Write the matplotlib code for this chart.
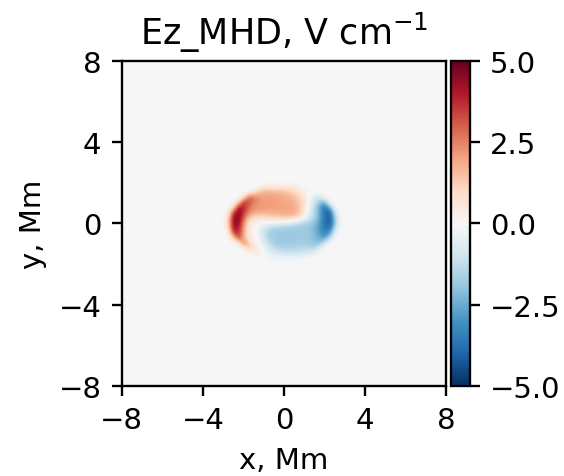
import numpy as np
import matplotlib
matplotlib.use("Agg")
import matplotlib.pyplot as plt

# grid nodes (Mm) for the Ez field
x_nodes = [-3.0, -2.75, -2.5, -2.25, -2.0, -1.75, -1.5, -1.25, -1.0, -0.75, -0.5, -0.25,
           0.0, 0.25, 0.5, 0.75, 1.0, 1.25, 1.5, 1.75, 2.0, 2.25, 2.5, 2.75, 3.0]
y_nodes = [2.0, 1.75, 1.5, 1.25, 1.0, 0.75, 0.5, 0.25, 0.0,
           -0.25, -0.5, -0.75, -1.0, -1.25, -1.5, -1.75, -2.0]

# Ez_MHD values, V/cm, one row per y node (top -> bottom), columns follow x_nodes
ez_rows = [
    [0, 0, 0, 0, 0, 0, 0, 0, 0, 0, 0, 0, 0, 0, 0, 0, 0, 0, 0, 0, 0, 0, 0, 0, 0],
    [0, 0, 0, 0, 0, 0, 0, 0, 0.4, 0.4, 0.4, 0.4, 0.4, 0.4, 0.4, 0.2, 0, 0, 0, 0, 0, 0, 0, 0, 0],
    [0, 0, 0, 0, 0, 0, 0.6, 1.5, 1.8, 1.8, 1.7, 1.6, 1.5, 1.3, 1.0, 0.6, 0.3, 0, 0, 0, 0, 0, 0, 0, 0],
    [0, 0, 0, 0, 0.5, 3.0, 2.6, 2.2, 2.0, 2.0, 2.0, 1.9, 1.8, 1.7, 1.5, 1.1, 0.5, 0.0, -0.8, -0.6, 0, 0, 0, 0, 0],
    [0, 0, 0, 1.0, 3.8, 3.2, 2.5, 2.2, 2.1, 2.1, 2.1, 2.0, 2.0, 1.9, 1.7, 1.3, 0.6, -0.2, -1.0, -2.2, -2.0, 0, 0, 0, 0],
    [0, 0, 0.8, 4.2, 3.8, 2.8, 2.3, 2.2, 2.1, 2.1, 2.1, 2.0, 2.0, 2.0, 1.8, 1.4, 0.6, -0.4, -1.4, -2.6, -3.8, -2.0, 0, 0, 0],
    [0, 0.3, 3.5, 4.6, 3.6, 2.5, 2.0, 1.9, 1.9, 1.9, 1.9, 1.9, 1.9, 1.9, 1.8, 1.4, 0.5, -0.6, -1.6, -2.6, -4.0, -4.0, -0.8, 0, 0],
    [0, 1.0, 4.5, 4.6, 3.0, 1.5, 1.0, 0.8, 0.9, 1.0, 1.2, 1.3, 1.4, 1.4, 1.2, 0.8, 0.0, -0.8, -1.6, -2.6, -3.8, -4.2, -1.5, 0, 0],
    [0, 1.2, 4.6, 4.4, 2.5, 0.6, 0.3, 0.1, 0.0, 0.0, -0.1, -0.2, -0.3, -0.5, -0.8, -1.1, -1.4, -1.7, -2.1, -2.9, -3.8, -4.2, -1.8, 0, 0],
    [0, 1.0, 4.4, 4.0, 2.0, 0.5, 0.2, -0.4, -0.9, -1.2, -1.5, -1.6, -1.7, -1.7, -1.8, -1.8, -1.8, -1.9, -2.3, -2.9, -3.7, -3.8, -1.2, 0, 0],
    [0, 0.2, 3.6, 3.8, 1.8, 0.5, 0.2, -0.4, -1.1, -1.6, -1.8, -1.8, -1.8, -1.8, -1.8, -1.8, -1.8, -1.9, -2.3, -2.8, -3.4, -2.8, -0.3, 0, 0],
    [0, 0, 1.2, 3.4, 1.8, 0.5, 0.2, -0.3, -1.0, -1.6, -1.8, -1.9, -1.9, -1.9, -1.8, -1.8, -1.8, -1.9, -2.2, -2.5, -2.8, -1.2, 0, 0, 0],
    [0, 0, 0, 0.5, 2.6, 1.2, 0.3, 0.0, -0.6, -1.3, -1.7, -1.8, -1.8, -1.8, -1.8, -1.7, -1.7, -1.8, -2.0, -2.1, -0.8, 0, 0, 0, 0],
    [0, 0, 0, 0, 0.2, 1.5, 0.8, 0.2, -0.3, -0.9, -1.2, -1.4, -1.5, -1.5, -1.5, -1.4, -1.4, -1.5, -1.5, -0.4, 0, 0, 0, 0, 0],
    [0, 0, 0, 0, 0, 0, 0.3, 0.5, 0.0, -0.5, -0.7, -0.9, -1.0, -1.0, -1.0, -0.9, -0.9, -0.7, -0.3, 0, 0, 0, 0, 0, 0],
    [0, 0, 0, 0, 0, 0, 0, 0, 0, 0, -0.2, -0.2, -0.2, -0.2, -0.2, -0.2, 0, 0, 0, 0, 0, 0, 0, 0, 0],
    [0, 0, 0, 0, 0, 0, 0, 0, 0, 0, 0, 0, 0, 0, 0, 0, 0, 0, 0, 0, 0, 0, 0, 0, 0],
]
ez = np.array(ez_rows, dtype=float)

ticks = [-8, -4, 0, 4, 8]
cb_ticks = [-5.0, -2.5, 0.0, 2.5, 5.0]

# the original looks like a small default figure blown up ~2.1x
s = 2.1
plt.rcParams.update({
    'font.size': 10 * s,
    'axes.linewidth': 0.8 * s,
    'xtick.major.size': 3.5 * s, 'ytick.major.size': 3.5 * s,
    'xtick.major.width': 0.8 * s, 'ytick.major.width': 0.8 * s,
    'xtick.major.pad': 3.5 * s, 'ytick.major.pad': 3.5 * s,
    'axes.titlepad': 6 * s, 'axes.labelpad': 4 * s,
})

dx = 0.125
extent = [x_nodes[0] - dx, x_nodes[-1] + dx, y_nodes[-1] - dx, y_nodes[0] + dx]

cmap = plt.get_cmap('RdBu_r')

fig = plt.figure(figsize=(5.64, 4.77), dpi=100)
ax = fig.add_axes([0.216, 0.189, 0.575, 0.681])
cax = fig.add_axes([0.800, 0.189, 0.033, 0.681])

ax.set_facecolor(cmap(0.5))
im = ax.imshow(ez, extent=extent, origin='upper', cmap=cmap,
               vmin=-5, vmax=5, interpolation='bicubic')
ax.set_xlim(-8, 8)
ax.set_ylim(-8, 8)
ax.set_xticks(ticks)
ax.set_yticks(ticks)
ax.set_xlabel('x, Mm')
ax.set_ylabel('y, Mm')
ax.set_title('Ez_MHD, V cm$^{-1}$')

cb = fig.colorbar(im, cax=cax, ticks=cb_ticks)
cb.ax.set_yticklabels([f'{t:.1f}'.replace('-', '\u2212') for t in cb_ticks])

fig.savefig('out.png', dpi=100)
